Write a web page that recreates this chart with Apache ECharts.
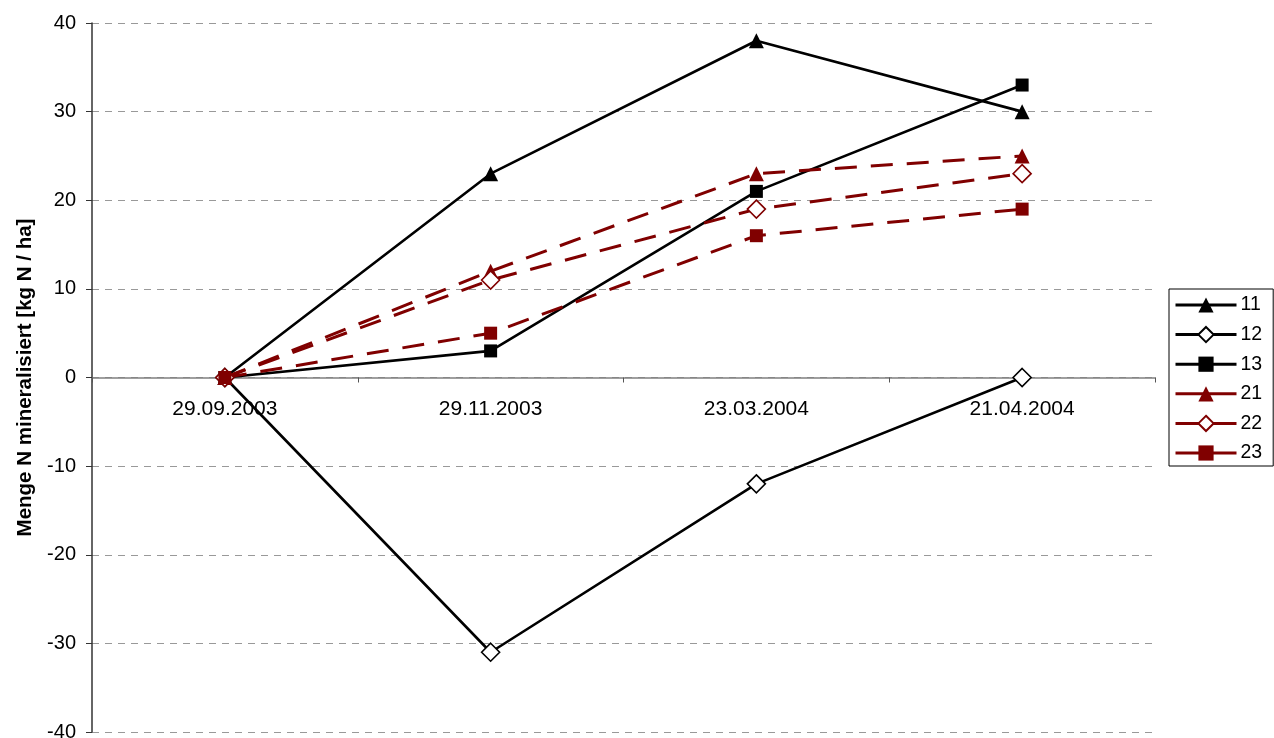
<!DOCTYPE html>
<html><head><meta charset="utf-8">
<script src="https://cdn.jsdelivr.net/npm/echarts@6/dist/echarts.min.js"></script>
<style>html,body{margin:0;padding:0;background:#fff}#c{width:1274px;height:738px}</style>
</head><body><div id="c"></div>
<script>
const categories = ['29.09.2003', '29.11.2003', '23.03.2004', '21.04.2004'];
const s11 = [0, 23, 38, 30];
const s12 = [0, -31, -12, 0];
const s13 = [0, 3, 21, 33];
const s21 = [0, 12, 23, 25];
const s22 = [0, 11, 19, 23];
const s23 = [0, 5, 16, 19];
const seriesNames = ['11', '12', '13', '21', '22', '23'];
const yTicks = { min: -40, max: 40, step: 10 };

const black = '#000000', red = '#800000';
function mk(name, data, color, symbol, filled, dashed, size) {
  return {
    name: name, type: 'line', data: data,
    symbol: symbol, symbolSize: size,
    lineStyle: { color: color, width: dashed ? 3 : 2.6, type: dashed ? [22, 14] : 'solid' },
    itemStyle: { color: filled ? color : '#fff', borderColor: color, borderWidth: filled ? 0 : 1.6 },
    emphasis: { disabled: true },
    z: dashed ? 3 : 2
  };
}
const chart = echarts.init(document.getElementById('c'), null, { renderer: 'canvas' });
const FONT = 'Liberation Sans, Arial, sans-serif';
chart.setOption({
  animation: false,
  textStyle: { fontFamily: FONT },
  grid: { left: 92, right: 119, top: 23, bottom: 6, containLabel: false, outerBoundsMode: 'none' },
  legend: {
    orient: 'vertical', left: 1169, top: 289,
    data: seriesNames,
    itemWidth: 61, itemHeight: 19, itemGap: 9.6,
    borderColor: '#000', borderWidth: 1, borderRadius: 0,
    padding: [6, 11, 3, 5],
    lineStyle: { type: 'solid', width: 3 },
    textStyle: { fontSize: 19.5, color: '#000', fontFamily: FONT, padding: [0, 0, 0, -1] }
  },
  xAxis: {
    type: 'category', data: categories, boundaryGap: true,
    axisLine: { onZero: false, lineStyle: { color: '#808080', width: 1.5 } },
    offset: -354.5,
    axisTick: { show: true, length: 5, lineStyle: { color: '#555' } },
    axisLabel: { color: '#000', fontSize: 21, margin: 21 },
    splitLine: { show: false }
  },
  yAxis: {
    type: 'value', min: yTicks.min, max: yTicks.max, interval: yTicks.step,
    name: 'Menge N mineralisiert [kg N / ha]',
    nameLocation: 'middle', nameGap: 56,
    nameTextStyle: { fontSize: 20.5, fontWeight: 'bold', color: '#000' },
    axisLine: { show: true, lineStyle: { color: '#333', width: 1.5 } },
    axisTick: { show: true, length: 6, lineStyle: { color: '#333' } },
    axisLabel: { color: '#000', fontSize: 20, margin: 16 },
    splitLine: { show: true, lineStyle: { color: '#999', type: [7, 6], width: 1 } }
  },
  series: [
    mk('11', s11, black, 'triangle', true, false, 15),
    mk('12', s12, black, 'diamond', false, false, 18),
    mk('13', s13, black, 'rect', true, false, 13),
    mk('21', s21, red, 'triangle', true, true, 15),
    mk('22', s22, red, 'diamond', false, true, 18),
    mk('23', s23, red, 'rect', true, true, 13)
  ]
});
</script></body></html>
